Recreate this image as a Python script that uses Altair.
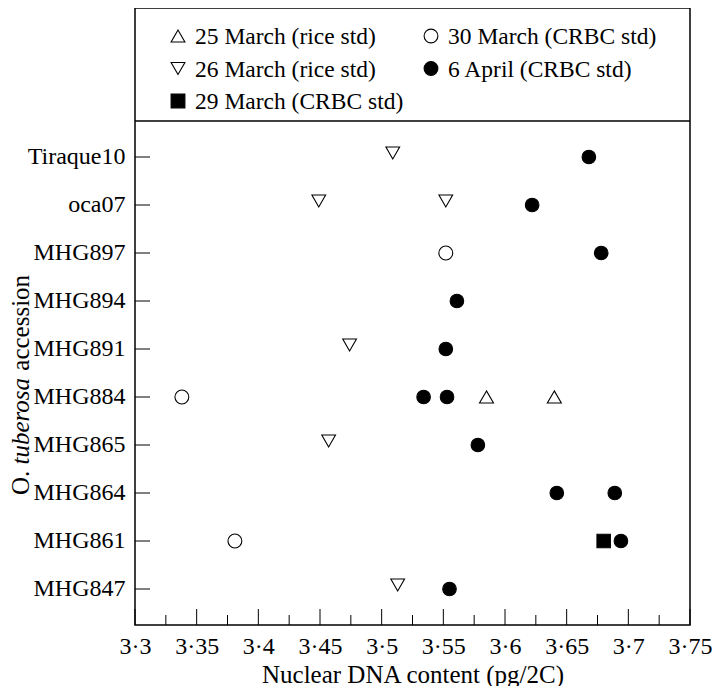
import altair as alt
import pandas as pd

# ---------------- data ----------------
accessions = ["Tiraque10", "oca07", "MHG897", "MHG894", "MHG891",
              "MHG884", "MHG865", "MHG864", "MHG861", "MHG847"]

# legend order (row-major, two columns)
series_names = ["25 March (rice std)", "30 March (CRBC std)", "26 March (rice std)",
                "6 April (CRBC std)", "29 March (CRBC std)"]

mar25_acc = ["MHG884", "MHG884"]
mar25_dna = [3.585, 3.640]

mar26_acc = ["Tiraque10", "oca07", "oca07", "MHG891", "MHG865", "MHG847"]
mar26_dna = [3.509, 3.449, 3.552, 3.474, 3.457, 3.513]

mar29_acc = ["MHG861"]
mar29_dna = [3.680]

mar30_acc = ["MHG897", "MHG884", "MHG861"]
mar30_dna = [3.552, 3.338, 3.381]

apr6_acc = ["Tiraque10", "oca07", "MHG897", "MHG894", "MHG891", "MHG884",
            "MHG884", "MHG865", "MHG864", "MHG864", "MHG861", "MHG847"]
apr6_dna = [3.668, 3.622, 3.678, 3.561, 3.552, 3.534,
            3.553, 3.578, 3.642, 3.689, 3.694, 3.555]

major_ticks = [3.3, 3.35, 3.4, 3.45, 3.5, 3.55, 3.6, 3.65, 3.7, 3.75]
minor_ticks = [3.325, 3.375, 3.425, 3.475, 3.525, 3.575, 3.625, 3.675, 3.725]

rows = []
for name, accs, vals in [
    ("25 March (rice std)", mar25_acc, mar25_dna),
    ("26 March (rice std)", mar26_acc, mar26_dna),
    ("29 March (CRBC std)", mar29_acc, mar29_dna),
    ("30 March (CRBC std)", mar30_acc, mar30_dna),
    ("6 April (CRBC std)", apr6_acc, apr6_dna),
]:
    for a, v in zip(accs, vals):
        rows.append({"acc": a, "dna": v, "date": name, "sz": name})
df = pd.DataFrame(rows)

leg_df = pd.DataFrame({
    "date": series_names,
    "col": [i % 2 for i in range(len(series_names))],
    "row": [i // 2 for i in range(len(series_names))],
})

# ---------------- layout ----------------
FONT = "Liberation Serif"
W, H = 555, 617
LEG_H = 113

xscale = alt.Scale(domain=[3.3, 3.75], nice=False, zero=False)
yscale = alt.Scale(domain=accessions, range=[LEG_H, H], padding=0.5)

x_enc = alt.X("dna:Q", scale=xscale, axis=alt.Axis(
    values=major_ticks,
    labelExpr="replace(format(datum.value, '~g'), '.', '·')",
    title="Nuclear DNA content (pg/2C)",
    titleFont=FONT, titleFontSize=25, titleFontWeight="normal", titleColor="black",
    titlePadding=4,
    labelFont=FONT, labelFontSize=24, labelColor="black",
    labelPadding=9, labelFlush=False, labelOverlap=False, labelBound=False,
    domain=False, ticks=False, tickSize=0, grid=False))

y_enc = alt.Y("acc:N", scale=yscale, sort=accessions, axis=alt.Axis(
    title=None, labelFont=FONT, labelFontSize=24, labelColor="black",
    labelPadding=10, domain=False, ticks=False, tickSize=0, grid=False))

shape_scale = alt.Scale(domain=series_names,
                        range=["triangle-up", "circle", "triangle-down", "circle", "square"])
fill_scale = alt.Scale(domain=series_names,
                       range=["white", "white", "white", "black", "black"])
size_scale = alt.Scale(domain=series_names, range=[196, 180, 196, 216, 169])

base = alt.Chart(df).encode(
    x=x_enc, y=y_enc,
    shape=alt.Shape("date:N", scale=shape_scale, legend=None),
    fill=alt.Fill("date:N", scale=fill_scale, legend=None),
    size=alt.Size("sz:N", scale=size_scale, legend=None),
)
pts_main = base.transform_filter("datum.date != '26 March (rice std)'").mark_point(
    filled=True, stroke="black", strokeWidth=1.1, opacity=1)
pts_down = base.transform_filter("datum.date == '26 March (rice std)'").mark_point(
    filled=True, stroke="black", strokeWidth=1.1, opacity=1, yOffset=-4)

ytick = alt.Chart(pd.DataFrame({"acc": accessions})).mark_rule(
    color="black", strokeWidth=1).encode(y=y_enc, x=alt.value(0), x2=alt.value(15))
xmajor = alt.Chart(pd.DataFrame({"dna": major_ticks})).mark_rule(
    color="black", strokeWidth=1).encode(x=x_enc, y=alt.value(H), y2=alt.value(H - 16))
xminor = alt.Chart(pd.DataFrame({"dna": minor_ticks})).mark_rule(
    color="black", strokeWidth=1).encode(x=x_enc, y=alt.value(H), y2=alt.value(H - 10))

sep = alt.Chart(pd.DataFrame({"k": [0]})).mark_rule(
    color="black", strokeWidth=1.3).encode(x=alt.value(0), x2=alt.value(W), y=alt.value(LEG_H))

def ytitle(txt, ypos, style="normal"):
    return alt.Chart(pd.DataFrame({"t": [txt]})).mark_text(
        angle=270, align="left", baseline="alphabetic", font=FONT, fontSize=25,
        fontStyle=style, color="black").encode(
        text="t:N", x=alt.value(-106), y=alt.value(ypos))

title_o = ytitle("O.", 487)
title_t = ytitle("tuberosa", 456.5, "italic")
title_a = ytitle("accession", 362.7)

main = alt.layer(sep, ytick, xmajor, xminor, pts_main, pts_down,
                 title_o, title_t, title_a)

# ---------------- legend box (inside the frame, above the data) ----------------
leg_x = alt.X("col:O", scale=alt.Scale(domain=[0, 1], range=[43, 296], padding=0), axis=None)
leg_y = alt.Y("row:O", scale=alt.Scale(domain=[0, 1, 2], range=[28, 93], padding=0), axis=None)

leg_pts = alt.Chart(leg_df).mark_point(
    filled=True, stroke="black", strokeWidth=1.1, opacity=1, size=190).encode(
    x=leg_x, y=leg_y,
    shape=alt.Shape("date:N", scale=shape_scale, legend=None),
    fill=alt.Fill("date:N", scale=fill_scale, legend=None))
leg_txt = alt.Chart(leg_df).mark_text(
    align="left", baseline="middle", dx=17, dy=1, font=FONT, fontSize=23.5,
    color="black").encode(x=leg_x, y=leg_y, text="date:N")

legend_layer = alt.layer(leg_pts, leg_txt)

chart = alt.layer(main, legend_layer).resolve_scale(
    x="independent", y="independent"
).properties(
    width=W, height=H,
    padding={"left": 127, "top": 0, "right": 22, "bottom": 61},
    autosize=alt.AutoSizeParams(type="none"),
).configure_view(stroke="black", strokeWidth=1.5)

chart.save("out.html", embed_options={"renderer": "svg", "actions": False})
